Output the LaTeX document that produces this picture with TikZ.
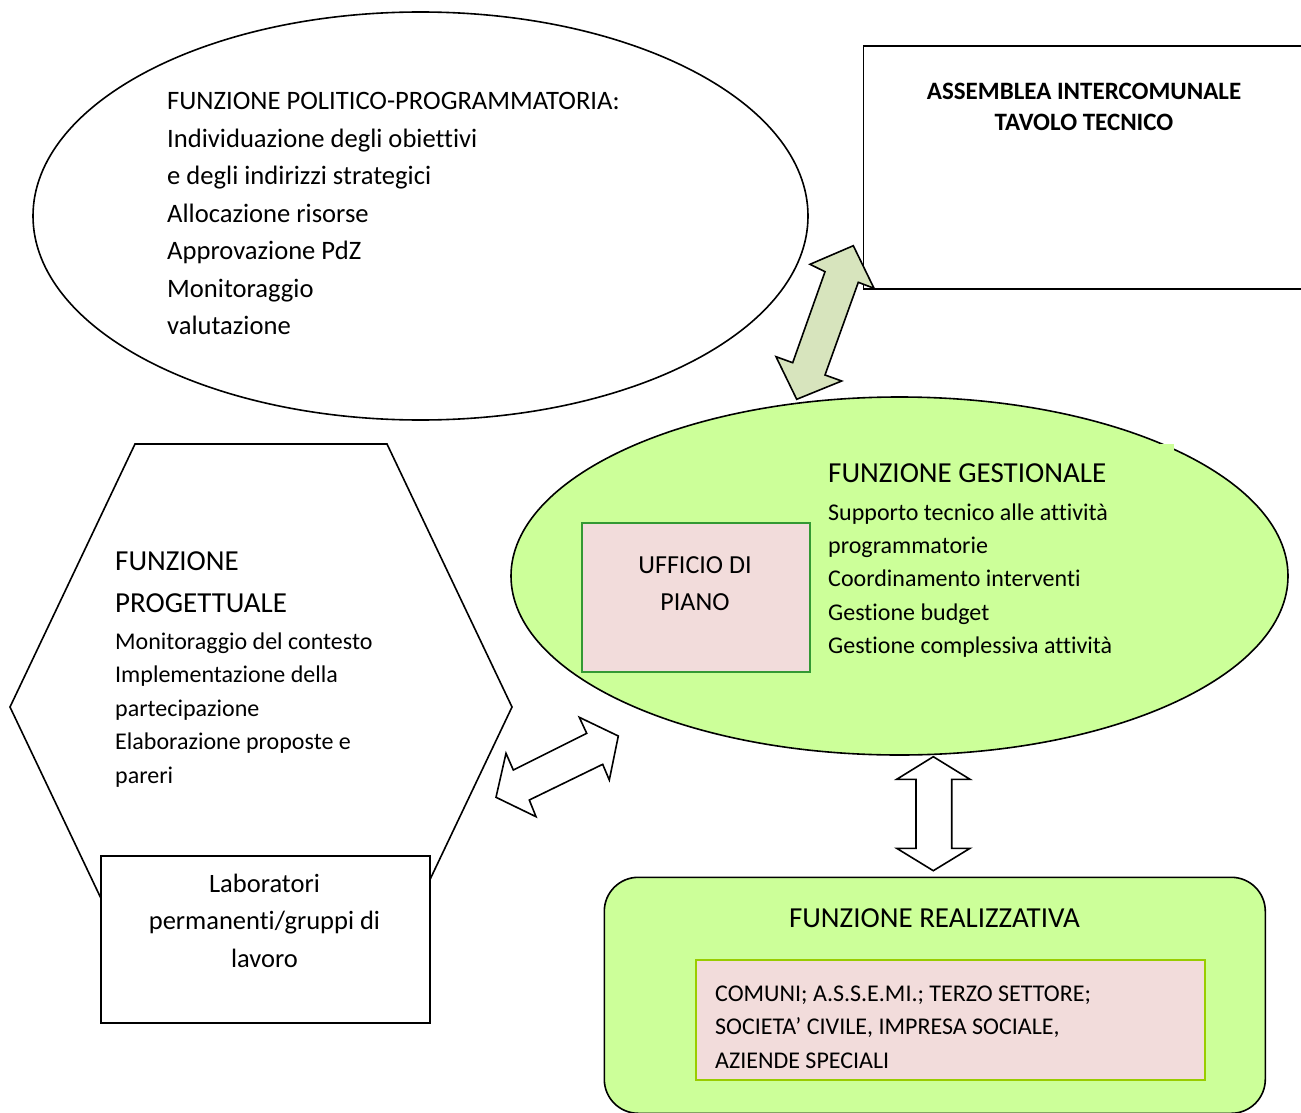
\documentclass[tikz,border=0pt]{standalone}
\usepackage{fontspec}
\setmainfont{Carlito}[Ligatures={NoCommon}]
\usetikzlibrary{shapes.geometric}
\definecolor{lgreen}{RGB}{204,255,153}
\definecolor{lpink}{RGB}{242,220,219}
\definecolor{agreen}{RGB}{215,228,189}
\definecolor{dgreen}{RGB}{51,153,51}
\definecolor{ygreen}{RGB}{153,204,0}
\newcommand\fsz[2]{\fontsize{#1}{#2}\selectfont}
\newcommand\tstrut{\rule{0pt}{25pt}}
\begin{document}
\begin{tikzpicture}[x=1pt,y=-1pt,line join=miter,
  outline/.style={draw=black,line width=1.6pt},
  txtl/.style={inner sep=0pt,anchor=north west,align=left},
  txtc/.style={inner sep=0pt,anchor=north,align=center},
  blockarrow/.style={draw=black,line width=1.6pt,line join=miter}]
\useasboundingbox (0,0) rectangle (1301,1113);
\clip (0,0) rectangle (1301,1113);
\fill[white] (0,0) rectangle (1301,1113);

% top ellipse
\node[ellipse,outline,minimum width=775pt,minimum height=408pt,inner sep=0pt] (pol) at (420.5,216) {};
\node[txtl,font=\fsz{26.6}{37.5}] (poltxt) at (167,84.5) {\tstrut FUNZIONE POLITICO-PROGRAMMATORIA:\\Individuazione degli obiettivi\\e degli indirizzi strategici\\Allocazione risorse\\Approvazione PdZ\\Monitoraggio\\valutazione};

% top right box
\node[outline,minimum width=447.5pt,minimum height=243pt,anchor=north west,inner sep=0pt] (asm) at (862.5,45) {};
\node[txtc,font=\bfseries\fsz{25}{30.5}] (asmtxt) at (1084,74.5) {\tstrut ASSEMBLEA INTERCOMUNALE\\TAVOLO TECNICO};

% green ellipse
\node[ellipse,outline,fill=lgreen,minimum width=777pt,minimum height=358pt,inner sep=0pt] (ges) at (899.5,576) {};
\fill[lgreen] (1160,444) rectangle (1174,452);
\node[draw=dgreen,line width=2pt,fill=lpink,minimum width=228pt,minimum height=149pt,anchor=north west,inner sep=0pt] (uff) at (580.5,521.5) {};
\node[txtc,font=\fsz{26}{36.7}] (ufftxt) at (695,548.3) {\tstrut UFFICIO DI\\PIANO};
\node[txtl,font=\fsz{29}{42}] (gestit) at (828,457.7) {\tstrut FUNZIONE GESTIONALE};
\node[txtl,font=\fsz{24}{33.3}] (gestxt) at (828,495) {\tstrut Supporto tecnico alle attività\\programmatorie\\Coordinamento interventi\\Gestione budget\\Gestione complessiva attività};

% hexagon
\draw[outline,fill=white] (135,444) -- (387,444) -- (512,707) -- (387,970) -- (135,970) -- (10,707) -- cycle;
\node[txtl,font=\fsz{29}{42}] (progtit) at (115,545.7) {\tstrut FUNZIONE\\PROGETTUALE};
\node[txtl,font=\fsz{24}{33.4}] (progtxt) at (115,624.3) {\tstrut Monitoraggio del contesto\\Implementazione della\\partecipazione\\Elaborazione proposte e\\pareri};
\node[outline,fill=white,minimum width=329pt,minimum height=167pt,anchor=north west,inner sep=0pt] (lab) at (100,855) {};
\node[txtc,font=\fsz{26.5}{37.5}] (labtxt) at (264.5,867) {\tstrut Laboratori\\permanenti/gruppi di\\lavoro};

% bottom rounded box
\node[outline,fill=lgreen,rounded corners=34pt,minimum width=661pt,minimum height=236pt,anchor=north west,inner sep=0pt] (rea) at (603.5,876.5) {};
\node[txtc,font=\fsz{29}{42}] (reatit) at (934.5,902.5) {\tstrut FUNZIONE REALIZZATIVA};
\node[draw=ygreen,line width=2pt,fill=lpink,minimum width=509pt,minimum height=120pt,anchor=north west,inner sep=0pt] (sog) at (694.5,959) {};
\node[txtl,font=\fsz{24}{33.5}] (sogtxt) at (715,976) {\tstrut COMUNI; A.S.S.E.MI.; TERZO SETTORE;\\SOCIETA’ CIVILE, IMPRESA SOCIALE,\\AZIENDE SPECIALI};

% block arrows
\draw[blockarrow,fill=agreen] (853.3,245.7) -- (874,288.3) -- (858.3,282.3) -- (825,375) -- (841.7,381) -- (796.7,399.3) -- (776,356.7) -- (792.7,362.7) -- (825,271.7) -- (810,264.3) -- cycle;
\draw[blockarrow,fill=white] (618.3,736) -- (609.3,780) -- (602.7,764.3) -- (529.3,800) -- (536,816.7) -- (496,797.3) -- (506,753.3) -- (513.3,770) -- (586.7,733.3) -- (579.3,717.3) -- cycle;
\draw[blockarrow,fill=white] (933.3,756.7) -- (970,779.3) -- (951.7,779.3) -- (951.7,848.3) -- (970,848.3) -- (933.3,870.7) -- (896.7,848.3) -- (916,848.3) -- (916,779.3) -- (896.7,779.3) -- cycle;
\end{tikzpicture}
\end{document}
